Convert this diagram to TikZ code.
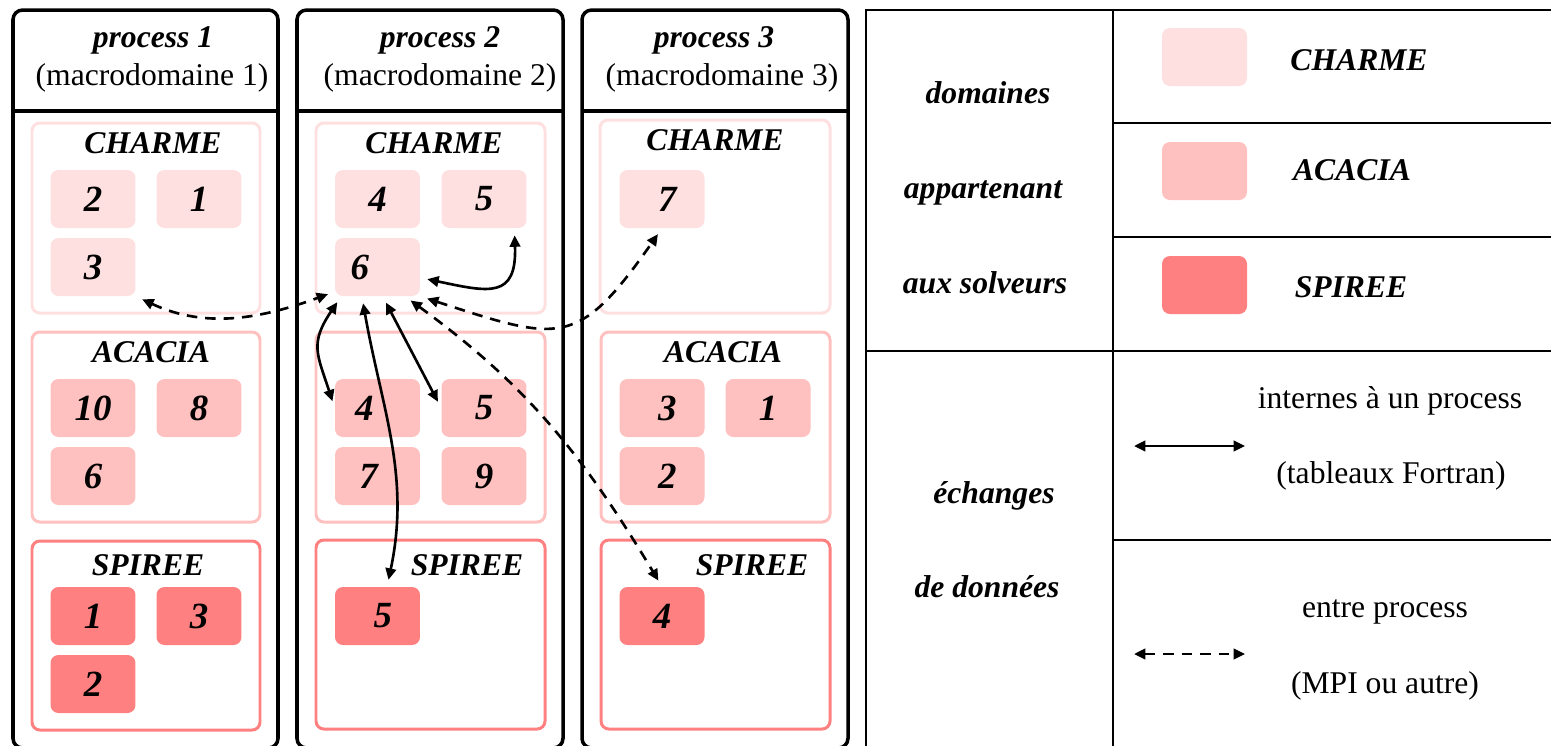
\documentclass[tikz,border=0pt]{standalone}
\usepackage{fontspec}
\setmainfont{Liberation Serif}
\usetikzlibrary{arrows.meta}

\definecolor{charmecol}{HTML}{FFE0E0}
\definecolor{acaciacol}{HTML}{FFC0C0}
\definecolor{spireecol}{HTML}{FF8080}

\newcommand\titlefont{\fontsize{18}{21}\selectfont\bfseries\itshape}
\newcommand\numfont{\fontsize{21}{24}\selectfont\bfseries\itshape}
\newcommand\plainfont{\fontsize{18}{21}\selectfont}

\begin{document}
\begin{tikzpicture}[x=0.02cm, y=-0.02cm,
    process frame/.style={draw=black, line width=2pt, rounded corners=5.5pt},
    solver group/.style={line width=1.7pt, rounded corners=4.5pt},
    cell/.style={rounded corners=4.5pt, minimum width=1.7cm,
        minimum height=1.16cm, inner sep=0pt, font=\numfont},
    charme cell/.style={cell, fill=charmecol},
    acacia cell/.style={cell, fill=acaciacol},
    spiree cell/.style={cell, fill=spireecol},
    heading/.style={font=\titlefont, anchor=base, inner sep=0pt},
    caption/.style={font=\plainfont, anchor=base, inner sep=0pt},
    grid line/.style={draw=black, line width=1.5pt},
    exchange/.style={line width=1.5pt,
        {Triangle[length=6.5pt,width=6pt]}-{Triangle[length=6.5pt,width=6pt]}},
    mpi exchange/.style={exchange, dash pattern=on 6pt off 4.5pt},
    gap/.style={shorten <=4pt, shorten >=4pt}
]
    \path[use as bounding box] (0,0) rectangle (1551,745);

    % The three process columns.
    \foreach \xl/\xr in {13/278, 297/563, 582/848} {
        \draw[process frame] (\xl,10) rectangle (\xr,748);
        \draw[process frame, rounded corners=0pt] (\xl,111) -- (\xr,111);
    }

    \node[heading] (p1) at (153,47) {process 1};
    \node[caption] (p1-sub) at (152,85) {(macrodomaine 1)};
    \node[heading] (p2) at (440,47) {process 2};
    \node[caption] (p2-sub) at (440,85) {(macrodomaine 2)};
    \node[heading] (p3) at (714,47) {process 3};
    \node[caption] (p3-sub) at (722,85) {(macrodomaine 3)};

    % Process 1.
    \draw[solver group, draw=charmecol] (32,123) rectangle (260,313);
    \draw[solver group, draw=acaciacol] (32,332) rectangle (260,522);
    \draw[solver group, draw=spireecol] (32,541) rectangle (260,730);
    \node[heading] (c1-title) at (153,153) {CHARME};
    \node[heading] (a1-title) at (151,362) {ACACIA};
    \node[heading] (s1-title) at (148,575) {SPIREE};

    \node[charme cell] (c1-2) at (93,199) {2};
    \node[charme cell] (c1-1) at (199,199) {1};
    \node[charme cell] (c1-3) at (93,267) {3};
    \node[acacia cell] (a1-10) at (93,408) {10};
    \node[acacia cell] (a1-8) at (199,408) {8};
    \node[acacia cell] (a1-6) at (93,476) {6};
    \node[spiree cell] (s1-1) at (93,616) {1};
    \node[spiree cell] (s1-3) at (199,616) {3};
    \node[spiree cell] (s1-2) at (93,684) {2};

    % Process 2.
    \draw[solver group, draw=charmecol] (316,123) rectangle (545,313);
    \draw[solver group, draw=acaciacol] (316,332) rectangle (545,522);
    \draw[solver group, draw=spireecol] (316,540) rectangle (545,729);
    \node[heading] (c2-title) at (434,153) {CHARME};
    \node[heading] (s2-title) at (467,575) {SPIREE};

    \node[charme cell] (c2-4) at (377.5,199) {4};
    \node[charme cell] (c2-5) at (484,199) {5};
    \node[charme cell] (c2-6) at (377.5,267) {6\kern20pt};
    \node[acacia cell] (a2-4) at (377.5,408) {4\kern15pt};
    \node[acacia cell] (a2-5) at (484,408) {5};
    \node[acacia cell] (a2-7) at (377.5,476) {7\kern10pt};
    \node[acacia cell] (a2-9) at (484,476) {9};
    \node[spiree cell] (s2-5) at (377.5,616) {\kern6pt5};

    % Process 3.
    \draw[solver group, draw=charmecol] (600,120) rectangle (830,313);
    \draw[solver group, draw=acaciacol] (601,332) rectangle (830,522);
    \draw[solver group, draw=spireecol] (601,540) rectangle (830,729);
    \node[heading] (c3-title) at (715,150) {CHARME};
    \node[heading] (a3-title) at (723,362) {ACACIA};
    \node[heading] (s3-title) at (752,575) {SPIREE};

    \node[charme cell] (c3-7) at (662,199) {\kern6pt7};
    \node[acacia cell] (a3-3) at (662,408) {\kern6pt3};
    \node[acacia cell] (a3-1) at (768,408) {1};
    \node[acacia cell] (a3-2) at (662,476) {\kern6pt2};
    \node[spiree cell] (s3-4) at (662,616) {4};

    % Exchanges inside process 2.
    \draw[exchange, gap] (c2-6.-14) to[out=-12, in=-88, looseness=1.7] (c2-5.-44);
    \draw[exchange, gap] (c2-6.219) to[out=-124, in=108, looseness=1.3] (a2-4.west);
    \draw[exchange, gap] (c2-6.-80) -- (a2-5.west);
    \draw[exchange, gap] (c2-6.-118) to[out=-80, in=78] (s2-5.72);

    % Exchanges between processes.
    \draw[mpi exchange, gap] (c1-3.south east) to[out=-25, in=200] (c2-6.210);
    \draw[mpi exchange, gap] (c2-6.south east) to[out=-18, in=-125, looseness=1.5] (c3-7.south);
    \draw[mpi exchange, gap] (c2-6.-47) to[out=-36, in=121] (s3-4.north);

    % Legend table.
    \draw[grid line] (866,760) -- (866,10) -- (1560,10);
    \draw[grid line] (1113,10) -- (1113,760);
    \draw[grid line] (866,351) -- (1560,351);
    \draw[grid line] (1113,123) -- (1560,123);
    \draw[grid line] (1113,237) -- (1560,237);
    \draw[grid line] (1113,540) -- (1560,540);

    \node[heading] (l-dom) at (988,103) {domaines};
    \node[heading] (l-app) at (983,198) {appartenant};
    \node[heading] (l-sol) at (985,293) {aux solveurs};

    \node[charme cell] (l-charme) at (1204.5,57) {};
    \node[heading] (l-charme-name) at (1359,70) {CHARME};
    \node[acacia cell] (l-acacia) at (1204.5,171) {};
    \node[heading] (l-acacia-name) at (1352,180) {ACACIA};
    \node[spiree cell] (l-spiree) at (1204.5,285) {};
    \node[heading] (l-spiree-name) at (1351,297) {SPIREE};

    \node[heading] (l-ech) at (994,503) {échanges};
    \node[heading] (l-don) at (987,597) {de données};

    \node[caption] (l-int) at (1390,408) {internes à un process};
    \coordinate (li-a) at (1134,446);
    \coordinate (li-b) at (1245,446);
    \draw[exchange] (li-a) -- (li-b);
    \node[caption] (l-fort) at (1391,483) {(tableaux Fortran)};

    \node[caption] (l-ent) at (1385,617) {entre process};
    \coordinate (lm-a) at (1134,654);
    \coordinate (lm-b) at (1245,654);
    \draw[mpi exchange] (lm-a) -- (lm-b);
    \node[caption] (l-mpi) at (1385,693) {(MPI ou autre)};
\end{tikzpicture}
\end{document}
